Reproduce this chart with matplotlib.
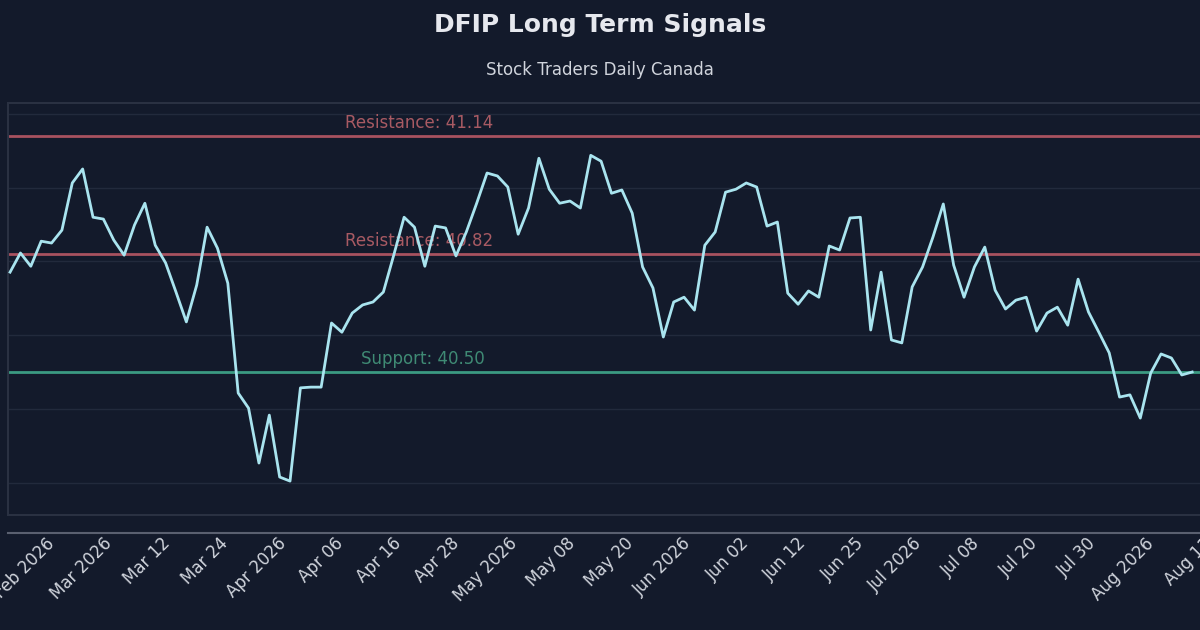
import matplotlib
matplotlib.use("Agg")
import matplotlib.pyplot as plt
from matplotlib.lines import Line2D
import numpy as np

prices = [40.771, 40.823, 40.787, 40.855, 40.850, 40.885, 41.013, 41.051, 40.920, 40.915,
          40.858, 40.817, 40.899, 40.958, 40.844, 40.796, 40.717, 40.636, 40.736, 40.893,
          40.836, 40.741, 40.443, 40.402, 40.253, 40.383, 40.215, 40.204, 40.457, 40.459,
          40.459, 40.633, 40.608, 40.660, 40.682, 40.690, 40.717, 40.817, 40.920, 40.893,
          40.787, 40.896, 40.891, 40.815, 40.880, 40.958, 41.040, 41.032, 41.002, 40.874,
          40.945, 41.080, 40.996, 40.958, 40.964, 40.945, 41.088, 41.072, 40.985, 40.994,
          40.931, 40.785, 40.728, 40.595, 40.690, 40.703, 40.668, 40.844, 40.880, 40.988,
          40.996, 41.013, 41.002, 40.896, 40.907, 40.714, 40.684, 40.720, 40.703, 40.842,
          40.831, 40.918, 40.920, 40.614, 40.771, 40.587, 40.579, 40.731, 40.785, 40.866,
          40.956, 40.790, 40.703, 40.785, 40.839, 40.722, 40.671, 40.695, 40.703, 40.611,
          40.660, 40.676, 40.627, 40.752, 40.663, 40.608, 40.552, 40.432, 40.438, 40.375,
          40.497, 40.549, 40.538, 40.492, 40.500]
tick_labels = ["Feb 2026", "Mar 2026", "Mar 12", "Mar 24", "Apr 2026", "Apr 06", "Apr 16",
               "Apr 28", "May 2026", "May 08", "May 20", "Jun 2026", "Jun 02", "Jun 12",
               "Jun 25", "Jul 2026", "Jul 08", "Jul 20", "Jul 30", "Aug 2026", "Aug 11"]
resistance_levels = [41.14, 40.82]
support_levels = [40.50]

BG = "#131a2b"
fig = plt.figure(figsize=(12, 6.3), dpi=100, facecolor=BG)
ax = fig.add_axes([8/1200, 115/630, 1.0, 412/630], facecolor=BG)

x = np.arange(len(prices))
ax.set_xlim(-0.2, -0.2 + 1192/10.3)
ax.set_ylim(40.112, 41.23)
ax.set_yticks([40.2, 40.4, 40.6, 40.8, 41.0, 41.2])
ax.yaxis.grid(True, color="#222a3c", linewidth=1)
ax.tick_params(axis="y", length=0, labelleft=False)

for lvl in resistance_levels:
    ax.axhline(lvl, color="#a8525f", linewidth=2, zorder=2)
    ax.text(32.3, lvl + 0.012, f"Resistance: {lvl:.2f}", color="#a85a63", fontsize=12,
            va="bottom", zorder=2)
for lvl in support_levels:
    ax.axhline(lvl, color="#3b9a82", linewidth=2, zorder=2)
    ax.text(33.8, lvl + 0.012, f"Support: {lvl:.2f}", color="#3f8a74", fontsize=12,
            va="bottom", zorder=2)

ax.plot(x, prices, color="#a9e4ef", linewidth=2, zorder=3)

tick_pos = np.linspace(3.4, 115.0, len(tick_labels))
ax.set_xticks(tick_pos)
ax.set_xticklabels(tick_labels, rotation=45, ha="right", rotation_mode="anchor",
                   color="#d0d4dc", fontsize=12)
ax.tick_params(axis="x", length=0, pad=14)
for s in ax.spines.values():
    s.set_color("#2a3142")
    s.set_linewidth(1.5)

fig.add_artist(Line2D([8/1200, 1], [1-533/630]*2, color="#5a6070", linewidth=1.5))
fig.text(0.5, 1-25/630, "DFIP Long Term Signals", ha="center", va="center",
         color="#e6e8ee", fontsize=18, fontweight="bold")
fig.text(0.5, 1-70/630, "Stock Traders Daily Canada", ha="center", va="center",
         color="#d0d4dc", fontsize=12)
fig.savefig("out.png", dpi=100, facecolor=BG)
